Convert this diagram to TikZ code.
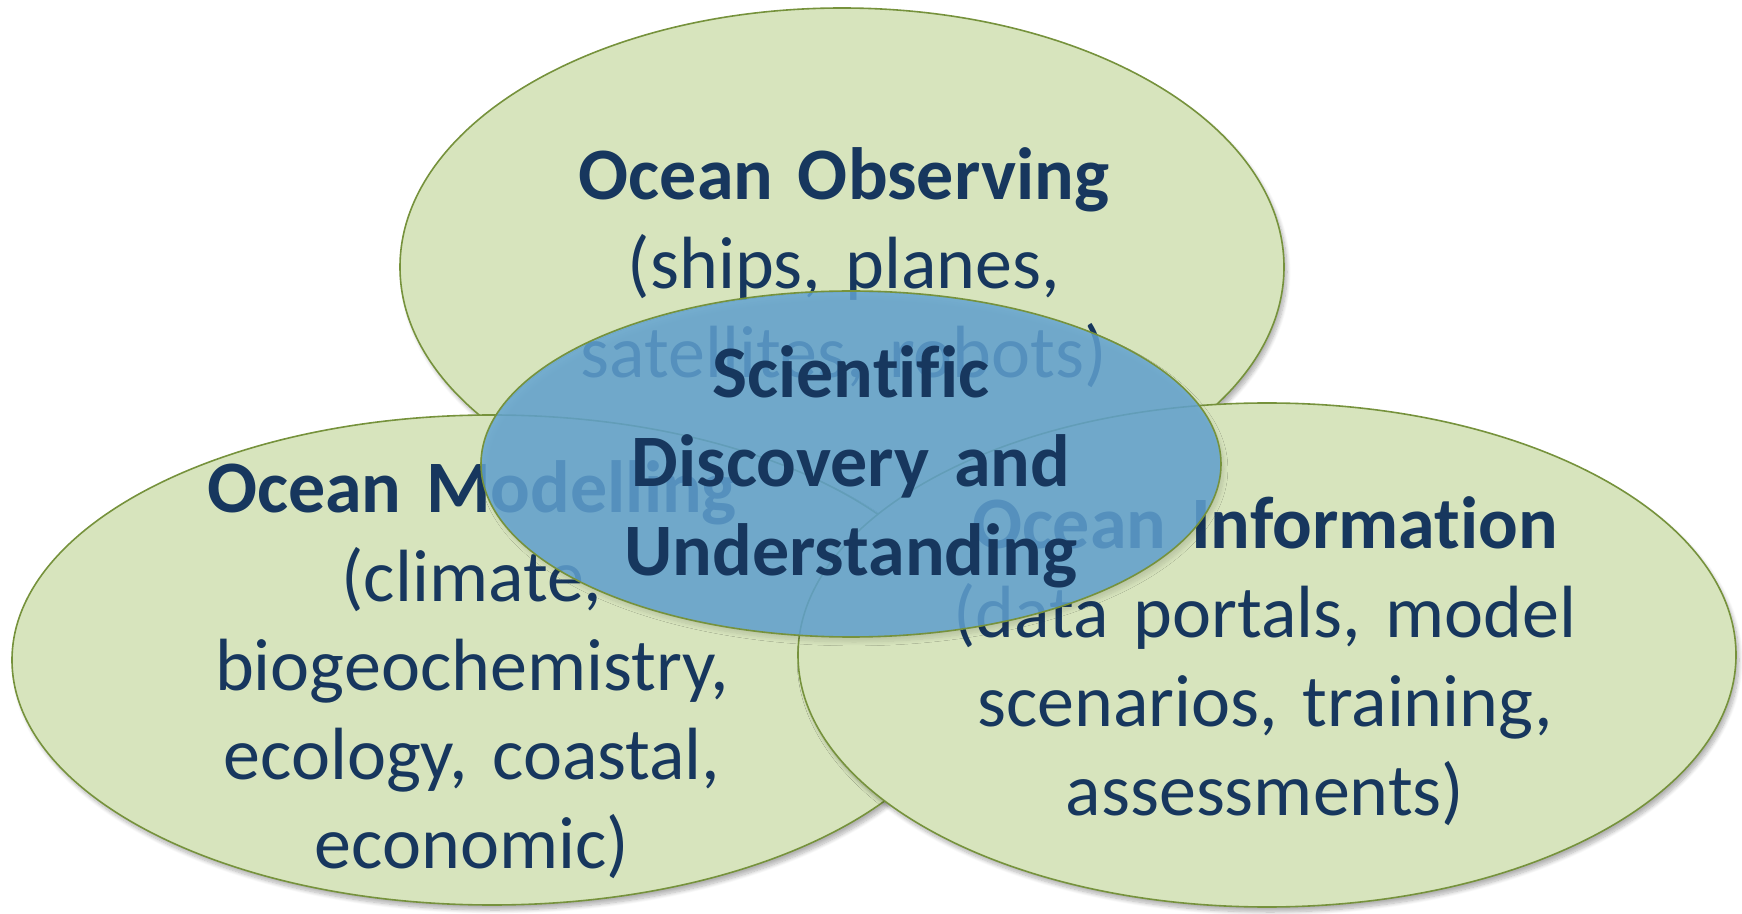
\documentclass[tikz,border=0pt]{standalone}
\usepackage{fontspec}
\setmainfont{Carlito}[Ligatures=NoCommon]
\usetikzlibrary{shapes.geometric,shadows.blur}
\definecolor{ellfill}{HTML}{D7E4BD}
\definecolor{ellline}{HTML}{76923C}
\definecolor{bluefill}{RGB}{98,163,210}
\definecolor{txt}{HTML}{17375E}
\tikzset{
  ell/.style={ellipse, inner sep=0pt, draw=ellline, line width=0.8pt},
  greenell/.style={ell, fill=ellfill,
    blur shadow={shadow xshift=1.5pt, shadow yshift=-2.5pt, shadow blur steps=10, shadow opacity=30}},
  blueell/.style={ell, fill=bluefill, fill opacity=0.84,
    blur shadow={shadow xshift=1.5pt, shadow yshift=-2.5pt, shadow blur steps=10, shadow opacity=15}},
  lbl/.style={anchor=base, text=txt, align=center, text width=500pt,
    font=\fontsize{37}{44.5}\selectfont\frenchspacing, inner sep=0pt},
}
\begin{document}
\begin{tikzpicture}[x=0.5pt,y=-0.5pt]
\useasboundingbox (0,0) rectangle (1742,914);
\node[greenell, minimum width=442pt, minimum height=259pt] (obs) at (842,267) {};
\node[lbl] (obst) at (844,200) {\textbf{Ocean Observing}\\(ships, planes,\\satellites, robots)};
\node[greenell, minimum width=480pt, minimum height=245pt] (mod) at (492,660) {};
\node[lbl] (modt) at (472,513) {\textbf{Ocean Modelling}\\(climate,\\biogeochemistry,\\ecology, coastal,\\economic)};
\node[greenell, minimum width=469pt, minimum height=252pt] (inf) at (1267,655) {};
\node[lbl] (inft) at (1265,549) {\textbf{Ocean Information}\\(data portals, model\\scenarios, training,\\assessments)};
\node[blueell, minimum width=370pt, minimum height=173pt] (sci) at (851,464) {};
\node[lbl] (scit) at (851,398) {\textbf{Scientific}\\\textbf{Discovery and}\\\textbf{Understanding}};
\end{tikzpicture}
\end{document}
